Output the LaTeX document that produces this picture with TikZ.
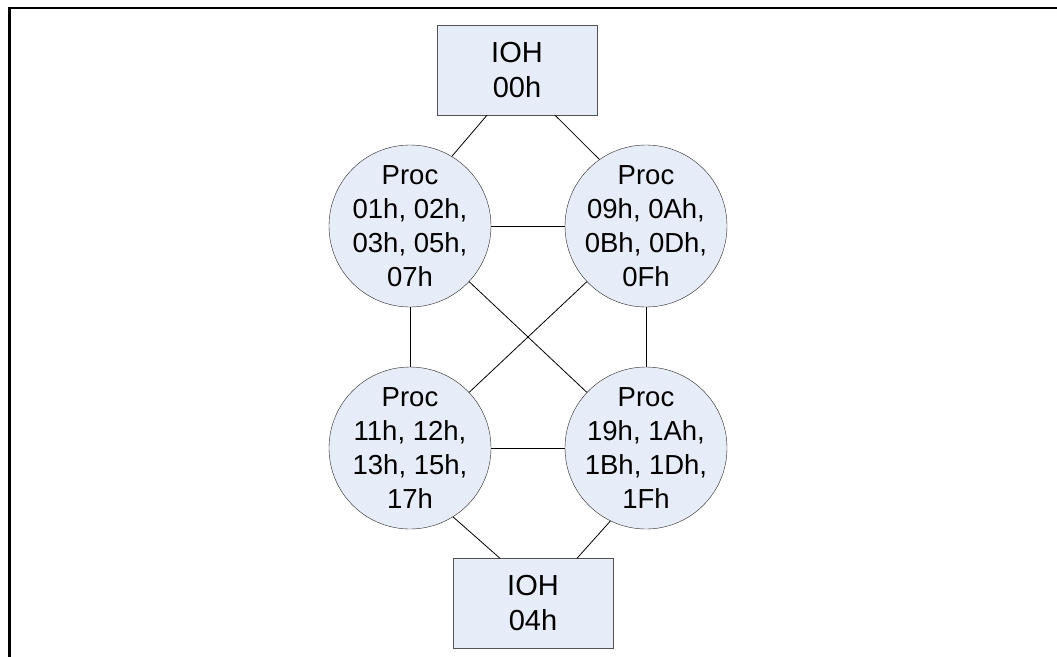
\documentclass[tikz,border=0pt]{standalone}
\usepackage{fontspec}
\setmainfont{Liberation Sans}
\definecolor{procfill}{RGB}{230,236,248}
\definecolor{edgegray}{RGB}{40,40,40}
\tikzset{
    proc/.style={circle, draw=edgegray, fill=procfill, minimum size=162pt, inner sep=-18pt,
        align=center, font=\fontsize{27.5}{34}\selectfont},
    ioh/.style={rectangle, draw=edgegray!80, fill=procfill, minimum width=160pt, minimum height=90pt,
        inner sep=0pt, align=center, font=\fontsize{29}{35}\selectfont},
    link/.style={draw=black, line width=0.8pt}
}
\begin{document}
\begin{tikzpicture}[x=1pt, y=-1pt]
    \useasboundingbox (0,0) rectangle (1057,656);
    \draw[line width=2.5pt] (9.5,660) -- (9.5,8) -- (1060,8); %frame

    \node[ioh] (ioh0) at (517,70) {IOH\\00h};
    \node[proc] (p1) at (410,226) {Proc\\01h, 02h,\\03h, 05h,\\07h};
    \node[proc] (p2) at (646,226) {Proc\\09h, 0Ah,\\0Bh, 0Dh,\\0Fh};
    \node[proc] (p3) at (410,448) {Proc\\11h, 12h,\\13h, 15h,\\17h};
    \node[proc] (p4) at (646,448) {Proc\\19h, 1Ah,\\1Bh, 1Dh,\\1Fh};
    \node[ioh] (ioh4) at (533,603.5) {IOH\\04h};

    \draw[link] ([xshift=-30pt]ioh0.south) -- (p1.59);
    \draw[link] ([xshift=38pt]ioh0.south) -- (p2.125);
    \draw[link] (p1) -- (p2);
    \draw[link] (p1) -- (p3);
    \draw[link] (p2) -- (p4);
    \draw[link] (p1) -- (p4);
    \draw[link] (p2) -- (p3);
    \draw[link] (p3) -- (p4);
    \draw[link] (p3.-58) -- ([xshift=-33pt]ioh4.north);
    \draw[link] (p4.-116) -- ([xshift=44pt]ioh4.north);
\end{tikzpicture}
\end{document}
